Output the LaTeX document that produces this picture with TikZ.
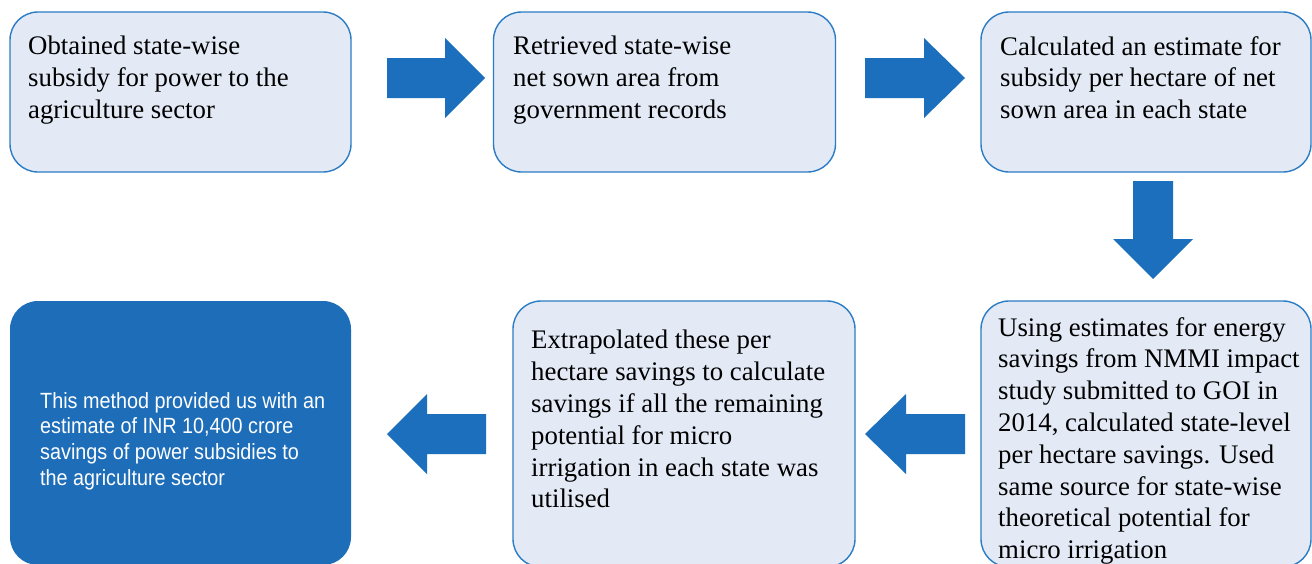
\documentclass[tikz,border=0pt]{standalone}
\usepackage{fontspec}
\setmainfont{Liberation Serif}
\newfontfamily\condsans[FakeStretch=0.9]{Liberation Sans}
\definecolor{boxfill}{HTML}{E3EAF6}
\definecolor{boxline}{HTML}{2B7CC4}
\definecolor{arrowblue}{HTML}{1C6FBC}
\definecolor{darkbox}{HTML}{1D6DB9}
\tikzset{
  lightbox/.style={draw=boxline, line width=1.4pt, fill=boxfill, rounded corners=28pt, inner sep=0pt},
  darkpanel/.style={fill=darkbox, rounded corners=28pt, inner sep=0pt},
  boxtext/.style={anchor=north west, inner sep=0pt, align=left, font=\fontsize{26.8}{31.8}\selectfont},
  whitetext/.style={anchor=north west, inner sep=0pt, align=left, text=white, font=\condsans\fontsize{22}{25.8}\selectfont},
  blockarrow/.style={fill=arrowblue}
}
\begin{document}
\begin{tikzpicture}[x=1pt,y=-1pt]
\useasboundingbox (0,0) rectangle (1312,563);
\clip (0,0) rectangle (1312,563);
\fill[white] (0,0) rectangle (1312,563);

% boxes
\node[lightbox, minimum width=341, minimum height=160] (b1) at (180.5,92) {};
\node[lightbox, minimum width=342, minimum height=160] (b2) at (664.5,92) {};
\node[lightbox, minimum width=330, minimum height=160] (b3) at (1146,92) {};
\node[lightbox, minimum width=330, minimum height=266] (b4) at (1146,434) {};
\node[lightbox, minimum width=342, minimum height=266] (b5) at (684,434) {};
\node[darkpanel, minimum width=341, minimum height=264] (b6) at (180.5,433) {};

% texts
\node[boxtext] (t1) at (28,36) {Obtained state-wise\\subsidy for power to the\\agriculture sector};
\node[boxtext] (t2) at (513,36) {Retrieved state-wise\\net sown area from\\government records};
\node[boxtext] (t3) at (1000,36) {Calculated an estimate for\\subsidy per hectare of net\\sown area in each state};
\node[boxtext] (t4) at (998,317) {Using estimates for energy\\savings from NMMI impact\\study submitted to GOI in\\2014, calculated state-level\\per hectare savings. Used\\same source for state-wise\\theoretical potential for\\micro irrigation};
\node[boxtext] (t5) at (531,330) {Extrapolated these per\\hectare savings to calculate\\savings if all the remaining\\potential for micro\\irrigation in each state was\\utilised};
\node[whitetext] (t6) at (40,392) {This method provided us with an\\estimate of INR 10,400 crore\\savings of power subsidies to\\the agriculture sector};

% block arrows
\fill[blockarrow] (387,58) -- (445,58) -- (445,38) -- (485,78) -- (445,118) -- (445,98) -- (387,98) -- cycle;
\fill[blockarrow] (865,58) -- (924,58) -- (924,38) -- (965,78) -- (924,118) -- (924,98) -- (865,98) -- cycle;
\fill[blockarrow] (1133,181) -- (1173,181) -- (1173,239) -- (1193,239) -- (1153,279) -- (1113,239) -- (1133,239) -- cycle;
\fill[blockarrow] (965,414) -- (906,414) -- (906,394) -- (865,434) -- (906,474) -- (906,454) -- (965,454) -- cycle;
\fill[blockarrow] (486,414) -- (427,414) -- (427,394) -- (387,434) -- (427,474) -- (427,454) -- (486,454) -- cycle;
\end{tikzpicture}
\end{document}
